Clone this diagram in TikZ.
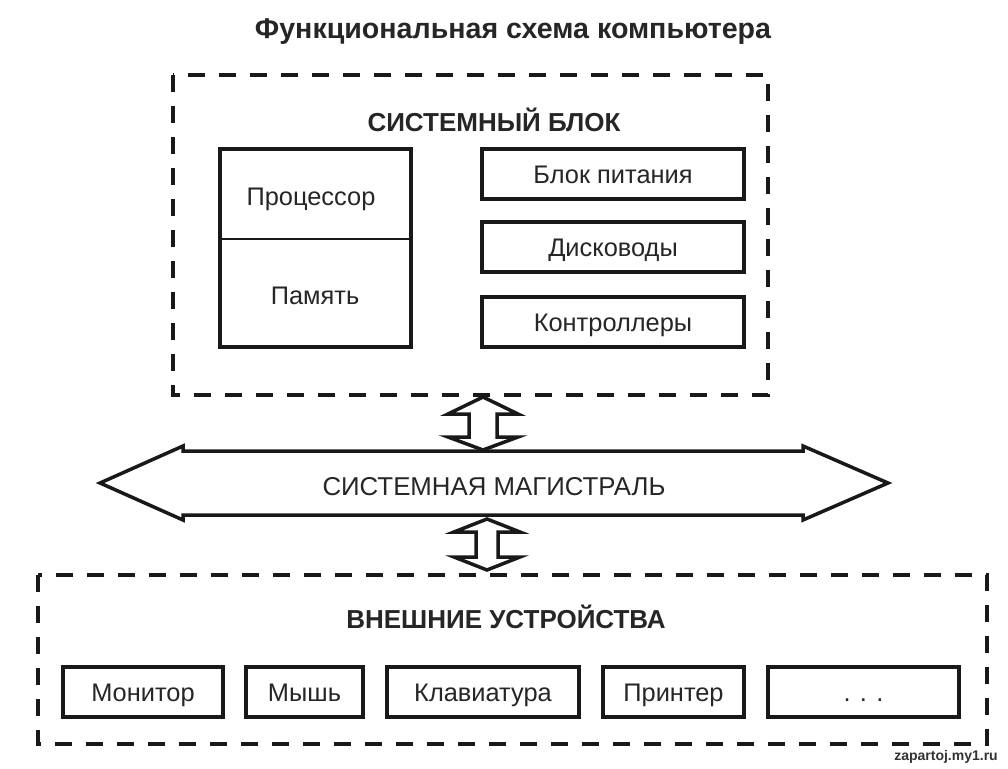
\documentclass[tikz,border=0pt]{standalone}
\usepackage{fontspec}
\setmainfont{Liberation Sans}
\begin{document}
\begin{tikzpicture}[x=1pt,y=-1pt,
  dashbox/.style={draw=black!90,line width=4.5pt,dash pattern=on 17pt off 14pt},
  solidbox/.style={draw=black!90,line width=3.2pt,fill=white},
  blockarrow/.style={draw=black!90,line width=3.5pt,line join=miter,fill=white},
  lbl/.style={font=\fontsize{25.4}{30}\selectfont,text=black!85,text height=18pt,text depth=0pt,inner sep=0pt},
  hdr/.style={font=\fontsize{26}{30}\selectfont\bfseries,text=black!85,text height=18.6pt,text depth=0pt,inner sep=0pt},
  devbox/.style={solidbox,lbl,minimum height=50pt}]
\useasboundingbox (0,0) rectangle (1008,768);
\fill[white] (0,0) rectangle (1008,768);
% title
\node[hdr,font=\fontsize{28.6}{32}\selectfont\bfseries,text height=20.5pt] (title) at (513,28) {Функциональная схема компьютера};
% system block
\draw[dashbox] (173,75) rectangle (768,395);
\node[hdr] (sbtitle) at (494,122) {СИСТЕМНЫЙ БЛОК};
\draw[solidbox] (220,149) rectangle (411,347);
\draw[black!90,line width=1.8pt] (220,239) -- (411,239);
\node[lbl] (cpu) at (311,196) {Процессор};
\node[lbl] (mem) at (315,295) {Память};
\node[devbox,minimum width=262pt] (psu) at (613,174) {Блок питания};
\node[devbox,minimum width=262pt] (disk) at (613,247) {Дисководы};
\node[devbox,minimum width=262pt] (ctrl) at (613,322) {Контроллеры};
% upper double arrow
\draw[blockarrow] (483,397) -- (518,414) -- (497,414) -- (497,437) -- (518,437) -- (483,450)
  -- (448,437) -- (469,437) -- (469,414) -- (448,414) -- cycle;
% bus
\draw[blockarrow] (100,483) -- (183,446) -- (183,451) -- (803,451) -- (803,446) -- (888,483)
  -- (803,520) -- (803,515) -- (183,515) -- (183,520) -- cycle;
\node[lbl,font=\fontsize{25.8}{30}\selectfont] (bus) at (494,486) {СИСТЕМНАЯ МАГИСТРАЛЬ};
% lower double arrow
\draw[blockarrow] (487,519) -- (520,532) -- (498,532) -- (498,557) -- (520,557) -- (487,570)
  -- (454,557) -- (476,557) -- (476,532) -- (454,532) -- cycle;
% external devices
\draw[dashbox] (38,575) rectangle (987,744);
\node[hdr] (extitle) at (506,619) {ВНЕШНИЕ УСТРОЙСТВА};
\node[devbox,minimum width=160pt] (mon) at (143,692) {Монитор};
\node[devbox,minimum width=117pt] (mouse) at (304.5,692) {Мышь};
\node[devbox,minimum width=192pt] (kbd) at (483,692) {Клавиатура};
\node[devbox,minimum width=141pt] (prn) at (673.5,692) {Принтер};
\node[devbox,minimum width=191pt] (more) at (863.5,692) {. . .};
% watermark
\node[font=\fontsize{14}{16}\selectfont\bfseries,text=black!80] (wm) at (946,757) {zapartoj.my1.ru};
\end{tikzpicture}
\end{document}
